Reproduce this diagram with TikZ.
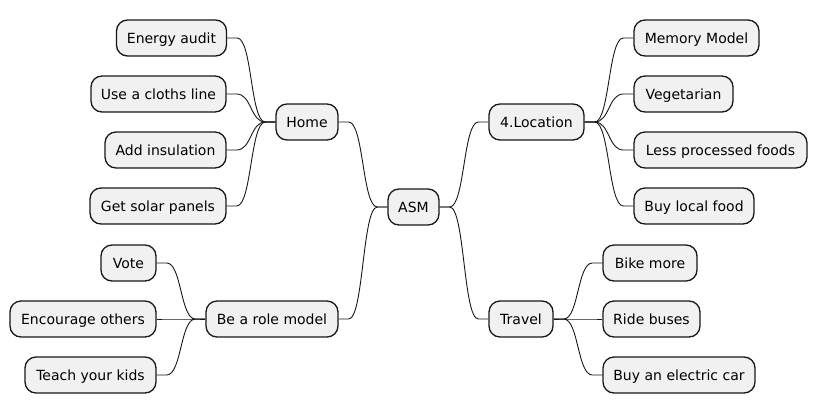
\documentclass[tikz,border=0pt]{standalone}
\usepackage{fontspec}
\setmainfont{DejaVu Sans}
\definecolor{nodefill}{HTML}{F1F1F1}
\definecolor{nodeline}{HTML}{181818}
\tikzset{
  mm/.style={draw=nodeline, fill=nodefill, line width=1.3pt, rounded corners=11pt,
    minimum height=36pt, inner sep=0pt, text height=11pt, text depth=0pt,
    font=\fontsize{14pt}{16pt}\selectfont, anchor=center},
  link/.style={draw=nodeline, line width=0.9pt}
}
\newcommand{\rlink}[2]{\draw[link] (#1.east) -- ++(10,0) .. controls +(15,0) and +(-15,0) .. ([xshift=-10pt]#2.west) -- (#2.west);}
\newcommand{\llink}[2]{\draw[link] (#1.west) -- ++(-10,0) .. controls +(-15,0) and +(15,0) .. ([xshift=10pt]#2.east) -- (#2.east);}
\begin{document}
\begin{tikzpicture}[x=1pt,y=-1pt]
\useasboundingbox (0,0) rectangle (818,415);
% root
\node[mm, minimum width=51pt] (asm) at (413.5,207) {ASM};
% left
\node[mm, minimum width=62pt] (home) at (307,122) {Home};
\node[mm, minimum width=110pt] (energy) at (171.5,38) {Energy audit};
\node[mm, minimum width=135pt] (cloths) at (158.5,94) {Use a cloths line};
\node[mm, minimum width=121pt] (insul) at (165.5,150) {Add insulation};
\node[mm, minimum width=136pt] (solar) at (158,206) {Get solar panels};
\node[mm, minimum width=132pt] (role) at (272,319) {Be a role model};
\node[mm, minimum width=55pt] (vote) at (128.5,263) {Vote};
\node[mm, minimum width=146pt] (encour) at (83,319) {Encourage others};
\node[mm, minimum width=131pt] (kids) at (90.5,375) {Teach your kids};
% right
\node[mm, minimum width=95pt] (loc) at (536.5,122) {4.Location};
\node[mm, minimum width=125pt] (memory) at (696.5,38) {Memory Model};
\node[mm, minimum width=99pt] (veg) at (683.5,94) {Vegetarian};
\node[mm, minimum width=173pt] (less) at (720.5,150) {Less processed foods};
\node[mm, minimum width=120pt] (local) at (694,206) {Buy local food};
\node[mm, minimum width=64pt] (travel) at (521,319) {Travel};
\node[mm, minimum width=94pt] (bike) at (650,263) {Bike more};
\node[mm, minimum width=97pt] (buses) at (651.5,319) {Ride buses};
\node[mm, minimum width=152pt] (ecar) at (679,375) {Buy an electric car};
% links
\llink{asm}{home}
\llink{asm}{role}
\llink{home}{energy}
\llink{home}{cloths}
\llink{home}{insul}
\llink{home}{solar}
\llink{role}{vote}
\llink{role}{encour}
\llink{role}{kids}
\rlink{asm}{loc}
\rlink{asm}{travel}
\rlink{loc}{memory}
\rlink{loc}{veg}
\rlink{loc}{less}
\rlink{loc}{local}
\rlink{travel}{bike}
\rlink{travel}{buses}
\rlink{travel}{ecar}
\end{tikzpicture}
\end{document}
